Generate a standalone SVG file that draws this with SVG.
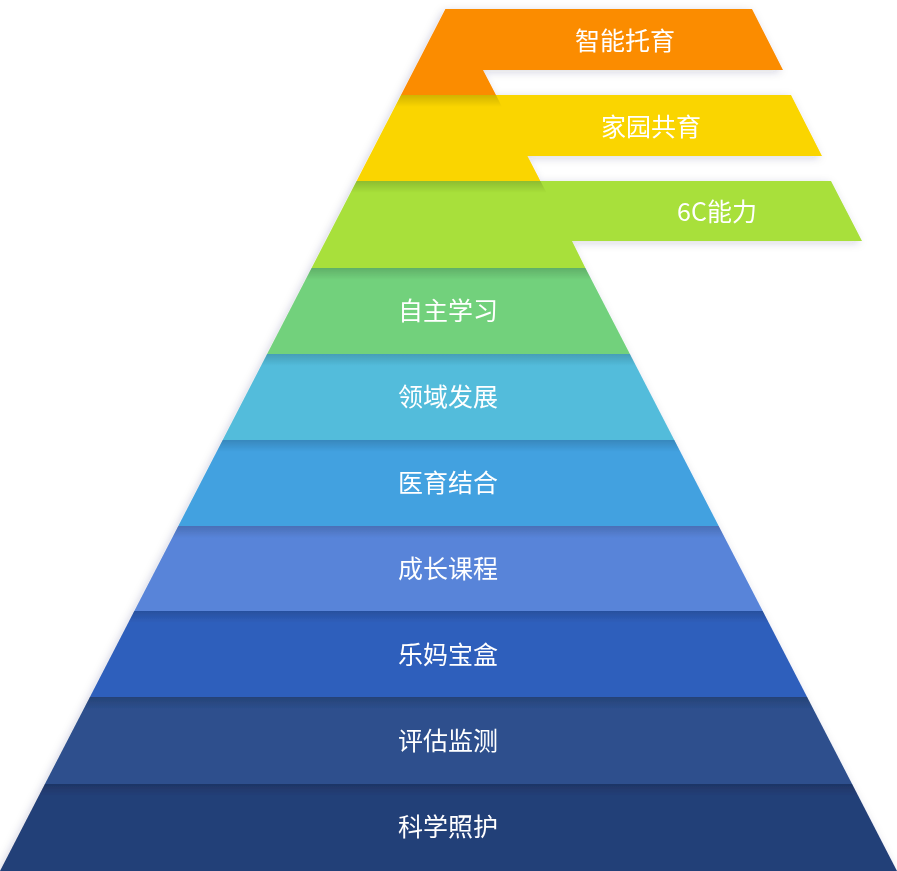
<svg xmlns="http://www.w3.org/2000/svg" width="897" height="871" viewBox="0 0 897 871">
<defs>
<linearGradient id="sh" x1="0" y1="0" x2="0" y2="1"><stop offset="0" stop-color="#000" stop-opacity="0.16"/><stop offset="1" stop-color="#000" stop-opacity="0"/></linearGradient>
<filter id="ds" x="-5%" y="-5%" width="110%" height="110%"><feDropShadow dx="-2" dy="2" stdDeviation="4" flood-color="#1a2a50" flood-opacity="0.18"/></filter>
</defs>
<style>
text{font-family:"Noto Sans CJK SC","Noto Sans",sans-serif;font-size:25px;fill:#fff;text-anchor:middle}
.s{fill:url(#sh)}
</style>
<g filter="url(#ds)">
<g id="l1"><polygon points="445.4,9 752,9 783,70 483,70 496,95 401,95" fill="#FB8C00"/><text x="625" y="50">智能托育</text></g>
<g id="l2"><polygon points="401,95 791,95 822,156 527.5,156 540.4,181 356.6,181" fill="#FAD500"/><polygon class="s" points="401,95 496,95 502,107 395,107"/><text x="651" y="136">家园共育</text></g>
<g id="l3"><polygon points="356.6,181 831,181 862,241 572,241 585.4,268 311.6,268" fill="#A8E03A"/><polygon class="s" points="356.6,181 540.4,181 546.6,193 350.4,193"/><text x="717" y="221">6C能力</text></g>
<g id="l4"><polygon points="311.6,268 585.4,268 629.9,354 267.1,354" fill="#72D17C"/><polygon class="s" points="311.6,268 585.4,268 591.6,280 305.4,280"/><text x="448" y="320">自主学习</text></g>
<g id="l5"><polygon points="267.1,354 629.9,354 674.3,440 222.7,440" fill="#53BCDB"/><polygon class="s" points="267.1,354 629.9,354 636.1,366 260.9,366"/><text x="448" y="406">领域发展</text></g>
<g id="l6"><polygon points="222.7,440 674.3,440 718.7,526 178.3,526" fill="#42A1E0"/><polygon class="s" points="222.7,440 674.3,440 680.5,452 216.5,452"/><text x="448" y="492">医育结合</text></g>
<g id="l7"><polygon points="178.3,526 718.7,526 762.7,611 134.3,611" fill="#5884D9"/><polygon class="s" points="178.3,526 718.7,526 724.9,538 172.1,538"/><text x="448" y="578">成长课程</text></g>
<g id="l8"><polygon points="134.3,611 762.7,611 807.1,697 89.9,697" fill="#2F5FBC"/><polygon class="s" points="134.3,611 762.7,611 768.9,623 128.1,623"/><text x="448" y="664">乐妈宝盒</text></g>
<g id="l9"><polygon points="89.9,697 807.1,697 852.1,784 44.9,784" fill="#2D4F8D"/><polygon class="s" points="89.9,697 807.1,697 813.3,709 83.7,709"/><text x="448" y="750">评估监测</text></g>
<g id="l10"><polygon points="44.9,784 852.1,784 897,871 0,871" fill="#243F78"/><polygon class="s" points="44.9,784 852.1,784 858.3,796 38.7,796"/><text x="448" y="836">科学照护</text></g>
</g>
<g id="connectors"/>
</svg>
